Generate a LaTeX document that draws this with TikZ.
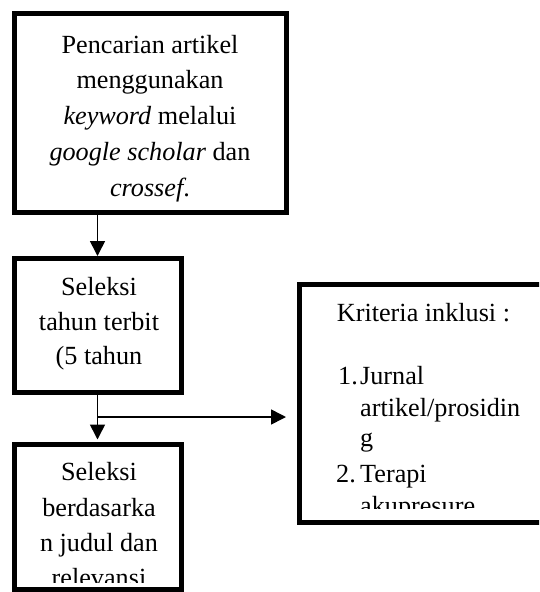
\documentclass[tikz,border=0pt]{standalone}
\usepackage{fontspec}
\setmainfont{Liberation Serif}
\usetikzlibrary{arrows.meta}
\tikzset{
  box/.style={draw, line width=5pt, inner sep=0pt, outer sep=2.5pt},
  arr/.style={line width=1.6pt, -{Triangle[length=15pt,width=15pt]}},
  txt/.style={inner sep=0pt, anchor=base, font=\fontsize{26.2}{31}\selectfont},
  txtl/.style={txt, anchor=base west}
}
\begin{document}
\begin{tikzpicture}[x=1pt,y=-1pt]
\useasboundingbox (0,0) rectangle (539,592);
\begin{scope}
\clip (0,0) rectangle (539,592);
% boxes
\node[box, minimum width=272pt, minimum height=199pt] (b1) at (150,113) {};
\node[box, minimum width=167pt, minimum height=134pt] (b2) at (97.5,325.5) {};
\node[box, minimum width=167pt, minimum height=145.5pt] (b3) at (97.5,516.75) {};
\node[box, minimum width=301pt, minimum height=238pt] (b4) at (449.5,403.5) {};
\end{scope}
% texts box 1
\node[txt] (t11) at (150,53) {Pencarian artikel};
\node[txt] (t12) at (150,88.5) {menggunakan};
\node[txt] (t13) at (150,124) {\textit{keyword} melalui};
\node[txt] (t14) at (150,160) {\textit{google scholar} dan};
\node[txt] (t15) at (150,196) {\textit{crossef}.};
% texts box 2
\node[txt] (t21) at (99,295) {Seleksi};
\node[txt] (t22) at (99,330) {tahun terbit};
\node[txt] (t23) at (99,364.5) {(5 tahun};
% texts box 3
\begin{scope}
\clip (16.5,446.5) rectangle (179,582);
\node[txt] (t31) at (99,480) {Seleksi};
\node[txt] (t32) at (99,516) {berdasarka};
\node[txt] (t33) at (99,551) {n judul dan};
\node[txt] (t34) at (99,586.5) {relevansi};
\end{scope}
% texts box 4
\begin{scope}
\clip (301.5,287) rectangle (539,508);
\node[txtl] (t41) at (336.7,321.7) {Kriteria inklusi :};
\node[txtl] (n1) at (338,384.5) {1.};
\node[txtl] (t42) at (360,384.5) {Jurnal};
\node[txtl] (t43) at (360,416.5) {artikel/prosidin};
\node[txtl] (t44) at (360,446.7) {g};
\node[txtl] (n2) at (336,482.5) {2.};
\node[txtl] (t45) at (360,482.5) {Terapi};
\node[txtl] (t46) at (360,514) {akupresure};
\end{scope}
% connectors
\coordinate (j) at (97.5,417);
\draw[arr] (b1.south -| b2.north) -- (b2.north);
\draw[arr, shorten >=2pt] (b2.south) -- (b3.north);
\draw[arr] (j) -- ([xshift=-10.5pt]j -| b4.west);
\end{tikzpicture}
\end{document}
